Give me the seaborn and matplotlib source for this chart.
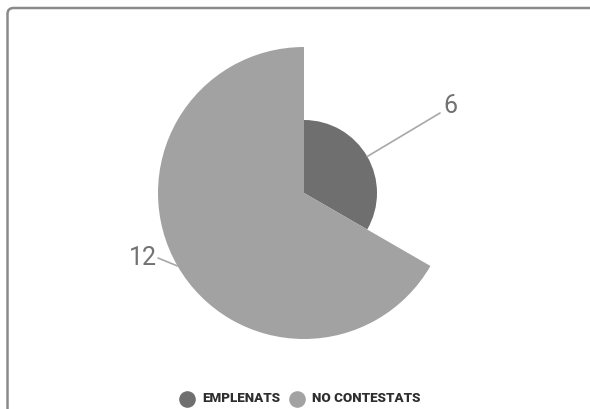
import math
import matplotlib
matplotlib.use("Agg")
import matplotlib.pyplot as plt
from matplotlib.patches import Wedge, FancyBboxPatch
import seaborn as sns

categories = ["EMPLENATS", "NO CONTESTATS"]
values = [6, 12]
colors = ["#6f6f6f", "#a2a2a2"]

sns.set_theme(style="white")
plt.rcParams["font.family"] = ["Roboto", "DejaVu Sans"]

W, H = 590, 409
fig = plt.figure(figsize=(W / 100, H / 100), dpi=100)
ax = fig.add_axes([0, 0, 1, 1])
ax.set_xlim(0, W)
ax.set_ylim(0, H)
ax.set_aspect("equal")
ax.axis("off")

# outer card frame (runs off the right and bottom edges)
frame = FancyBboxPatch((7.5, -20), 620, 409 - 8 + 20, boxstyle="round,pad=0,rounding_size=6",
                       fc="none", ec="#8a8a8a", lw=1.8, transform=ax.transData, clip_on=False)
ax.add_patch(frame)

cx, cy = 304, 216
unit = 146 / max(values)   # radius grows with the value
total = sum(values)

start = 90.0
for val, col in zip(values, colors):
    sweep = 360.0 * val / total
    r = val * unit
    ax.add_patch(Wedge((cx, cy), r, start - sweep, start, fc=col, ec="none"))
    start -= sweep

# value labels with leader lines
lab_specs = [
    (values[0], 30.0, (440, 296), (443, 303), "left"),
    (values[1], 210.0, (158, 151), (157, 151), "right"),
]
for val, ang, elbow, tpos, ha in lab_specs:
    r = val * unit
    ex = cx + r * math.cos(math.radians(ang))
    ey = cy + r * math.sin(math.radians(ang))
    ax.plot([ex, elbow[0]], [ey, elbow[1]], color="#a8a8a8", lw=1.2)
    ax.text(tpos[0], tpos[1], str(val), ha=ha, va="center", fontsize=18,
            color="#727272")

# legend
leg_x = [187, 297]
for x, name, col in zip(leg_x, categories, colors):
    ax.scatter([x], [10], s=120, color=col, zorder=3)
    ax.text(x + 15, 10, name, ha="left", va="center", fontsize=9.6,
            fontweight="black", color="#2e2e2e")

fig.savefig("out.png", dpi=100)
